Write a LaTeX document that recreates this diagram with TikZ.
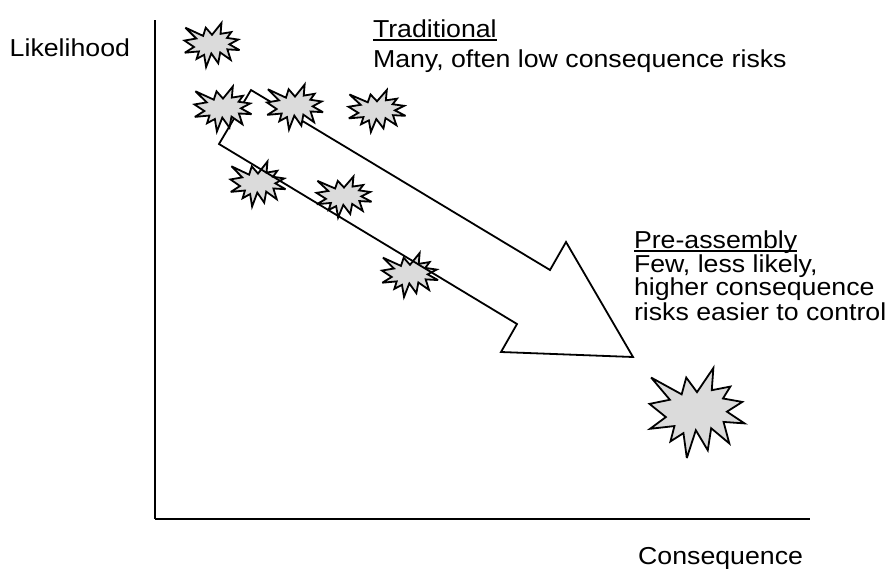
\documentclass[tikz,border=0pt]{standalone}
\usepackage{fontspec}
\setmainfont{Liberation Sans}[FakeStretch=1.09]
\newcommand\myul[1]{\setbox0\hbox{#1}\rlap{\rule[-3.6pt]{\wd0}{1.3pt}}\box0}
\tikzset{
  lbl/.style={font=\fontsize{24.5}{24}\selectfont, inner sep=0pt, outer sep=0pt, anchor=base west},
  axis/.style={line width=2pt, black},
  blockarrow/.style={line width=1.8pt, black, line join=miter},
  boom/.pic={
    \draw[line width=1.8pt, fill=black!14, line join=miter, miter limit=4]
      (0,-0.2315) -- (0.1723,-0.5) -- (0.1553,-0.2535) -- (0.3509,-0.2937) --
      (0.2732,-0.1613) -- (0.4767,-0.1233) -- (0.3151,-0.0150) -- (0.5,0.1153) --
      (0.2795,0.0992) -- (0.3400,0.3377) -- (0.1491,0.1693) -- (0.1133,0.4138) --
      (-0.0124,0.1914) -- (-0.1072,0.5) -- (-0.1428,0.2235) -- (-0.2795,0.3156) --
      (-0.2376,0.1452) -- (-0.4938,0.1753) -- (-0.3277,0.0451) -- (-0.5,-0.1012) --
      (-0.2858,-0.1474) -- (-0.4829,-0.3937) -- (-0.1615,-0.2074) -- (-0.1133,-0.3937) -- cycle;
  }
}
\begin{document}
\begin{tikzpicture}[x=1pt,y=-1pt]
\useasboundingbox (0,0) rectangle (893,568);
% axes
\coordinate (ytop) at (155,20);
\coordinate (orig) at (155,519);
\coordinate (xend) at (810,519);
\draw[axis] (ytop) -- (orig);
\draw[line width=1.6pt] (orig) -- (xend);
% stars under the arrow
\pic[xscale=55,yscale=45] at (258,184) {boom};
\pic[xscale=55,yscale=41] at (344,197) {boom};
\pic[xscale=56,yscale=44] at (410,275) {boom};
% block arrow
\coordinate (a1) at (251,90);
\coordinate (a2) at (550,270);
\coordinate (a3) at (566,242);
\coordinate (a4) at (633,357);
\coordinate (a5) at (501,352);
\coordinate (a6) at (517,324);
\coordinate (a7) at (219,144);
\draw[blockarrow] (a1) -- (a2) -- (a3) -- (a4) -- (a5) -- (a6) -- (a7) -- cycle;
% stars over the arrow
\pic[xscale=55,yscale=44] at (212,45) {boom};
\pic[xscale=57,yscale=45] at (223,109) {boom};
\pic[xscale=56,yscale=45] at (295,107) {boom};
\pic[xscale=57,yscale=42] at (377,111) {boom};
\pic[xscale=95,yscale=90] at (697,413) {boom};
% texts
\node[lbl, anchor=base east] (likelihood) at (130,56) {Likelihood};
\node[lbl, anchor=base east] (consequence) at (803,564) {Consequence};
\node[lbl] (trad) at (373,37) {\myul{Traditional}};
\node[lbl] (tradtxt) at (373,67) {Many, often low consequence risks};
\node[lbl] (pre) at (634,248) {\myul{Pre-assembly}};
\node[lbl] (pre1) at (634,272) {Few, less likely,};
\node[lbl] (pre2) at (634,295) {higher consequence};
\node[lbl] (pre3) at (634,320) {risks easier to control};
\end{tikzpicture}
\end{document}
